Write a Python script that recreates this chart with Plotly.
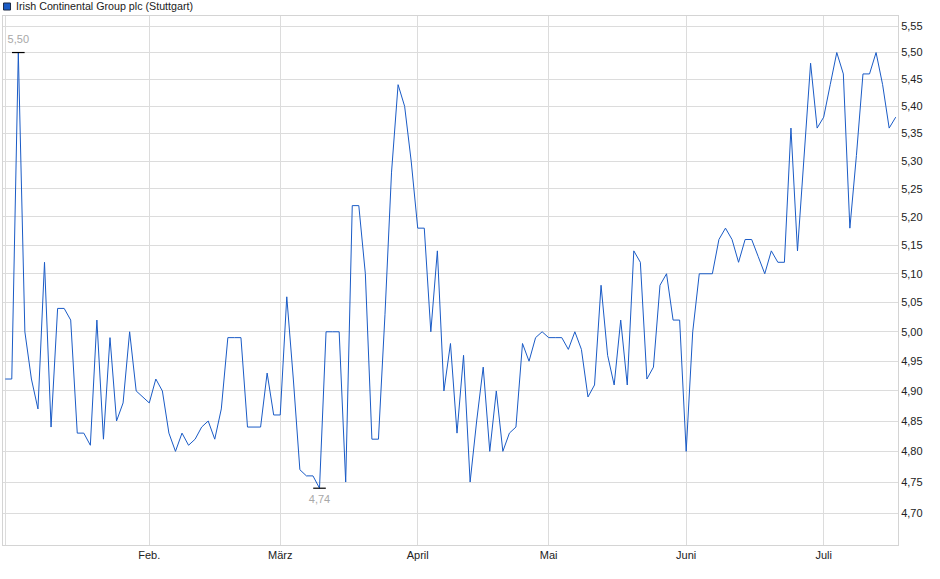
import pandas as pd
import plotly.graph_objects as go

# Schlusskurse Irish Continental Group plc (Stuttgart), 2. Jan. - 16. Juli 2025
holidays = ["2025-01-01", "2025-04-18", "2025-04-21", "2025-05-01"]
dates = pd.bdate_range("2025-01-02", "2025-07-16", freq="C", holidays=holidays)
dates = [d.strftime("%Y-%m-%d") for d in dates]

prices = [
    4.92, 4.92, 5.50, 5.00, 4.92, 4.87, 5.12, 4.84, 5.04, 5.04,
    5.02, 4.83, 4.83, 4.81, 5.02, 4.82, 4.99, 4.85, 4.88, 5.00,
    4.90, 4.89, 4.88, 4.92, 4.90, 4.83, 4.80, 4.83, 4.81, 4.82,
    4.84, 4.85, 4.82, 4.87, 4.99, 4.99, 4.99, 4.84, 4.84, 4.84,
    4.93, 4.86, 4.86, 5.06, 4.92, 4.77, 4.76, 4.76, 4.74, 5.00,
    5.00, 5.00, 4.75, 5.22, 5.22, 5.10, 4.82, 4.82, 5.03, 5.28,
    5.44, 5.40, 5.30, 5.18, 5.18, 5.00, 5.14, 4.90, 4.98, 4.83,
    4.96, 4.75, 4.85, 4.94, 4.80, 4.90, 4.80, 4.83, 4.84, 4.98,
    4.95, 4.99, 5.00, 4.99, 4.99, 4.99, 4.97, 5.00, 4.97, 4.89,
    4.91, 5.08, 4.96, 4.91, 5.02, 4.91, 5.14, 5.12, 4.92, 4.94,
    5.08, 5.10, 5.02, 5.02, 4.80, 5.00, 5.10, 5.10, 5.10, 5.16,
    5.18, 5.16, 5.12, 5.16, 5.16, 5.13, 5.10, 5.14, 5.12, 5.12,
    5.36, 5.14, 5.31, 5.48, 5.36, 5.38, 5.44, 5.50, 5.46, 5.18,
    5.31, 5.46, 5.46, 5.50, 5.44, 5.36, 5.38,
]

month_dates = ["2025-02-03", "2025-03-03", "2025-04-01", "2025-05-02", "2025-06-02", "2025-07-01"]
month_labels = ["Feb.", "März", "April", "Mai", "Juni", "Juli"]
y_ticks = [4.70, 4.75, 4.80, 4.85, 4.90, 4.95, 5.00, 5.05, 5.10, 5.15,
           5.20, 5.25, 5.30, 5.35, 5.40, 5.45, 5.50, 5.55]

name = "Irish Continental Group plc (Stuttgart)"
blue = "#1a5bc6"

i_max = prices.index(max(prices))
i_min = prices.index(min(prices))

fig = go.Figure()
fig.add_trace(go.Scatter(x=dates, y=prices, mode="lines", line=dict(color=blue, width=1),
                         name=name, showlegend=False, hoverinfo="x+y"))
# max / min markers
fig.add_trace(go.Scatter(x=[dates[i_max]], y=[prices[i_max]], mode="markers+text",
                         text=[f"{prices[i_max]:.2f}".replace(".", ",")], textposition="top center",
                         textfont=dict(color="#a8a8a8", size=11),
                         marker=dict(symbol="line-ew", size=9, line=dict(color="black", width=1.2)),
                         showlegend=False, hoverinfo="skip"))
fig.add_trace(go.Scatter(x=[dates[i_min]], y=[prices[i_min]], mode="markers+text",
                         text=[f"{prices[i_min]:.2f}".replace(".", ",")], textposition="bottom center",
                         textfont=dict(color="#a8a8a8", size=11),
                         marker=dict(symbol="line-ew", size=9, line=dict(color="black", width=1.2)),
                         showlegend=False, hoverinfo="skip"))

# legend box top left, drawn by hand
fig.add_shape(type="rect", xref="paper", yref="paper",
              x0=0.0006, x1=0.0084, y0=1.0113, y1=1.0246,
              fillcolor=blue, line=dict(color="#1c2a44", width=1))
fig.add_annotation(text=name, xref="paper", yref="paper", x=0.0125, y=1.018,
                   xanchor="left", yanchor="middle", showarrow=False,
                   font=dict(size=10.7, color="#222222"))

fig.update_layout(
    width=940, height=579,
    margin=dict(l=3, r=42, t=16, b=34, autoexpand=False),
    paper_bgcolor="white", plot_bgcolor="white",
    separators=", ",
    font=dict(family="Liberation Sans, Arial, sans-serif", size=11, color="#222222"),
    showlegend=False,
)
fig.update_xaxes(
    type="category", range=[-0.34, len(dates) - 0.65],
    tickvals=[dates[0]] + month_dates, ticktext=[""] + month_labels,
    showgrid=True, gridcolor="#dcdcdc", gridwidth=1,
    showline=True, mirror=True, linecolor="#d4d4d4", linewidth=1,
    ticks="", zeroline=False,
)
fig.update_yaxes(
    type="log", side="right",
    range=[0.66736, 0.74578],
    tickvals=y_ticks, tickformat=".2f",
    showgrid=True, gridcolor="#dcdcdc", gridwidth=1,
    showline=True, mirror=True, linecolor="#d4d4d4", linewidth=1,
    ticks="", zeroline=False,
)

fig.write_html("out.html", config={"displayModeBar": False},
               post_script="document.body.style.margin = '0';")
